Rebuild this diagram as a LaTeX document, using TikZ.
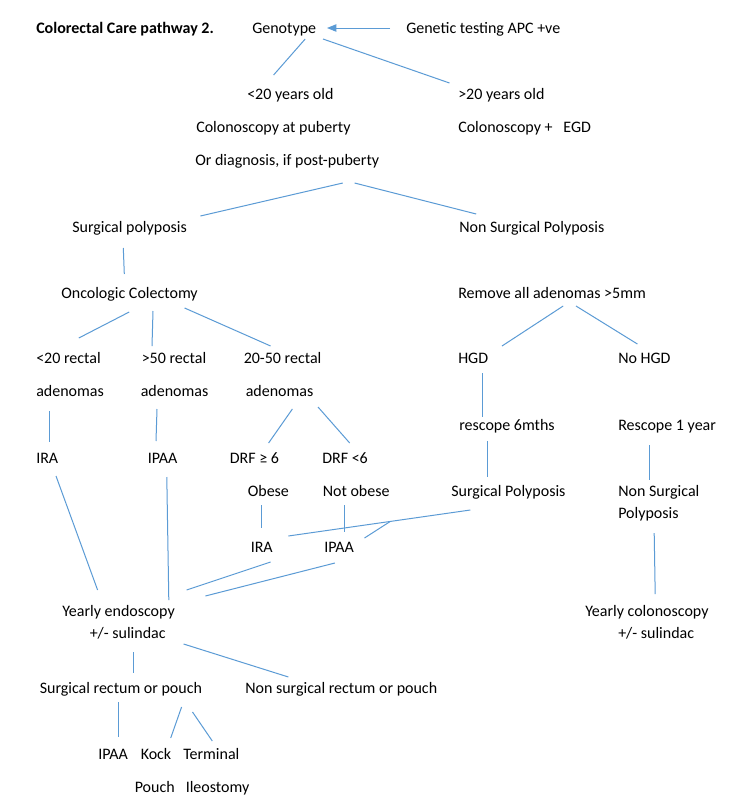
\documentclass[tikz,border=0pt]{standalone}
\usepackage{fontspec}
\setmainfont{Carlito}
\usetikzlibrary{arrows.meta}
\definecolor{lnblue}{RGB}{91,155,213}
\newcommand\rp[3]{([shift={(#2,#3)}]#1.west)}
\begin{document}
\begin{tikzpicture}[x=0.75pt,y=-0.75pt,
  lbl/.style={anchor=west,inner sep=0pt,text height=7.7pt,text depth=0pt,font=\fontsize{12pt}{14pt}\selectfont},
  ln/.style={draw=lnblue,line width=0.75pt},
  arr/.style={ln,-{Triangle[length=7pt,width=5.5pt]}},
]
\useasboundingbox[fill=white] (0,0) rectangle (745,801);
% nodes
\node[lbl,font=\fontsize{12pt}{14pt}\selectfont\bfseries] (title) at (36,28) {Colorectal Care pathway 2.};
\node[lbl] (geno) at (252,28) {Genotype};
\node[lbl] (gen) at (406,28) {Genetic testing APC +ve};
\node[lbl] (lt20) at (247,94) {<20 years old};
\node[lbl] (gt20) at (458,94) {>20 years old};
\node[lbl] (colp) at (196,127) {Colonoscopy at puberty};
\node[lbl] (coleg) at (458,127) {Colonoscopy +~~~EGD};
\node[lbl] (ordiag) at (195,160) {Or diagnosis, if post-puberty};
\node[lbl] (surg) at (72,227) {Surgical polyposis};
\node[lbl] (nonsurg) at (459,227) {Non Surgical Polyposis};
\node[lbl] (onco) at (61,293) {Oncologic Colectomy};
\node[lbl] (remove) at (458,293) {Remove all adenomas >5mm};
\node[lbl] (r20) at (36,358) {<20 rectal};
\node[lbl] (r50) at (141.5,358) {>50 rectal};
\node[lbl] (r2050) at (243.5,358) {20-50 rectal};
\node[lbl] (hgd) at (458,358) {HGD};
\node[lbl] (nohgd) at (618,358) {No HGD};
\node[lbl] (ad1) at (36,391) {adenomas};
\node[lbl] (ad2) at (140.5,391) {adenomas};
\node[lbl] (ad3) at (245.5,391) {adenomas};
\node[lbl] (resc6) at (459,425) {rescope 6mths};
\node[lbl] (resc1) at (618,425) {Rescope 1 year};
\node[lbl] (ira1) at (36,458) {IRA};
\node[lbl] (ipaa1) at (147.5,458) {IPAA};
\node[lbl] (drf6) at (229.5,458) {DRF ≥ 6};
\node[lbl] (drf6b) at (322,458) {DRF <6};
\node[lbl] (obese) at (247.5,491) {Obese};
\node[lbl] (notob) at (322.5,491) {Not obese};
\node[lbl] (surgp) at (451,491) {Surgical Polyposis};
\node[lbl] (nonsp) at (618,491) {Non Surgical};
\node[lbl] (nonsp2) at (618,513) {Polyposis};
\node[lbl] (ira2) at (250.5,547) {IRA};
\node[lbl] (ipaa2) at (324,547) {IPAA};
\node[lbl] (yearly) at (62,611) {Yearly endoscopy};
\node[lbl] (sul1) at (89.5,633) {+/- sulindac};
\node[lbl] (ycol) at (585,611) {Yearly colonoscopy};
\node[lbl] (sul2) at (618,633) {+/- sulindac};
\node[lbl] (surgr) at (39.5,688) {Surgical rectum or pouch};
\node[lbl] (nonsurgr) at (245,688) {Non surgical rectum or pouch};
\node[lbl] (ipaa3) at (98,754) {IPAA};
\node[lbl] (kock) at (140.5,754) {Kock};
\node[lbl] (term) at (183,754) {Terminal};
\node[lbl] (pouch) at (134.5,787) {Pouch};
\node[lbl] (ileo) at (185.5,787) {Ileostomy};
% connectors
\draw[arr] \rp{gen}{-16}{0} -- \rp{geno}{75}{0};
\draw[ln] \rp{geno}{53.2}{11} -- \rp{lt20}{26.6}{-19};
\draw[ln] \rp{geno}{71}{11} -- \rp{gt20}{-8.5}{-11};
\draw[ln] \rp{ordiag}{147.8}{23} -- \rp{surg}{128.4}{-11};
\draw[ln] \rp{ordiag}{159.6}{23} -- \rp{nonsurg}{17.2}{-13};
\draw[ln] \rp{surg}{51.3}{21} -- \rp{onco}{63.3}{-19};
\draw[ln] \rp{onco}{68.2}{19} -- \rp{r20}{42.8}{-20};
\draw[ln] \rp{onco}{92}{18} -- \rp{r50}{10.5}{-12};
\draw[ln] \rp{onco}{123.6}{15} -- \rp{r2050}{27.1}{-12};
\draw[ln] \rp{remove}{105.2}{13} -- \rp{hgd}{44}{-12};
\draw[ln] \rp{remove}{118}{13} -- \rp{nohgd}{19.4}{-14};
\draw[ln] \rp{hgd}{24}{15} -- \rp{resc6}{23}{-8};
\draw[ln] \rp{ad1}{13}{20} -- \rp{ira1}{13}{-16};
\draw[ln] \rp{ad2}{16.5}{18} -- \rp{ipaa1}{8.5}{-17};
\draw[ln] \rp{ad3}{46.9}{18} -- \rp{drf6}{39.1}{-15};
\draw[ln] \rp{ad3}{72.5}{16} -- \rp{drf6b}{27.7}{-15};
\draw[ln] \rp{resc6}{28}{16} -- \rp{surgp}{36}{-14};
\draw[ln] \rp{resc1}{31}{20} -- \rp{nonsp}{31}{-11};
\draw[ln] \rp{obese}{14.2}{14} -- \rp{ira2}{11.2}{-19};
\draw[ln] \rp{notob}{22.2}{14} -- \rp{ipaa2}{20.7}{-15};
\draw[ln] \rp{surgp}{19.3}{19} -- coordinate[pos=0.44] (brk) \rp{ira2}{37.9}{-11};
\draw[ln] (brk) -- \rp{ipaa2}{40.5}{-9};
\draw[ln] \rp{ira1}{20}{18} -- \rp{yearly}{35.6}{-21};
\draw[ln] \rp{ipaa1}{19.3}{19} -- \rp{yearly}{106.8}{-11};
\draw[ln] \rp{ira2}{20.1}{15} -- \rp{yearly}{124.6}{-21};
\draw[ln] \rp{ipaa2}{10.9}{16} -- \rp{yearly}{143.4}{-15};
\draw[ln] \rp{nonsp2}{36.2}{20} -- \rp{ycol}{70.2}{-17};
\draw[ln] \rp{sul1}{94.1}{11} -- \rp{nonsurgr}{43.4}{-11};
\draw[ln] \rp{sul1}{43.7}{19} -- \rp{surgr}{93.7}{-15};
\draw[ln] \rp{surgr}{78.9}{14} -- \rp{ipaa3}{20.4}{-17};
\draw[ln] \rp{surgr}{142.1}{19} -- \rp{kock}{30.2}{-16};
\draw[ln] \rp{surgr}{153}{24} -- \rp{term}{29.3}{-13};
\end{tikzpicture}
\end{document}
